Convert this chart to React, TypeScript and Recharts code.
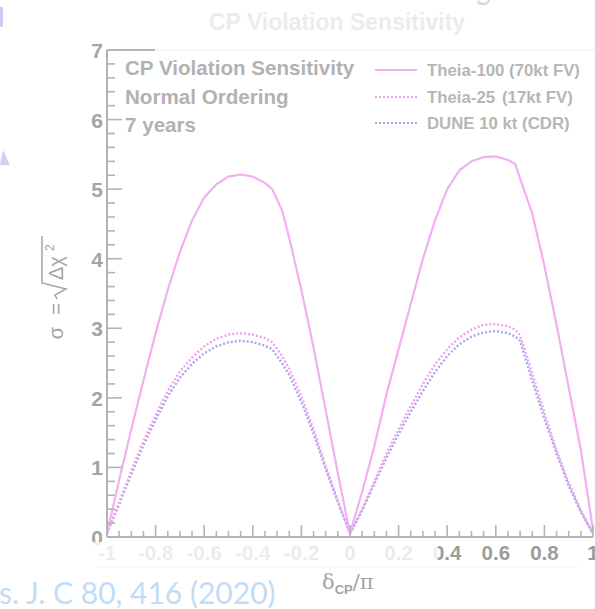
import React from 'react';
import { LineChart, Line, XAxis, YAxis } from 'recharts';

// δCP/π sample points
const deltaCP = [
  -1, -0.95, -0.9, -0.85, -0.8, -0.75, -0.7, -0.65, -0.6, -0.55, -0.5, -0.45, -0.4, -0.35, -0.32, -0.28, -0.25,
  -0.2, -0.15, -0.1, -0.05, 0, 0.05, 0.1, 0.15, 0.2, 0.25, 0.3, 0.35, 0.4, 0.45, 0.5, 0.55, 0.6, 0.65, 0.68,
  0.7, 0.75, 0.8, 0.85, 0.9, 0.95, 1,
];
// Theia-100 (70kt FV)
const theia100 = [
  0.05, 0.82, 1.55, 2.25, 2.93, 3.55, 4.1, 4.55, 4.88, 5.07, 5.18, 5.21, 5.18, 5.09, 5.0, 4.7, 4.3,
  3.55, 2.72, 1.82, 0.92, 0.05, 0.65, 1.3, 2.05, 2.7, 3.35, 4.0, 4.55, 5.0, 5.27, 5.4, 5.46, 5.47, 5.42, 5.36,
  5.15, 4.65, 3.9, 3.05, 2.15, 1.25, 0.1,
];
// Theia-25 (17kt FV)
const theia25 = [
  0.05, 0.5, 0.95, 1.38, 1.75, 2.1, 2.38, 2.58, 2.74, 2.85, 2.91, 2.93, 2.91, 2.86, 2.8, 2.6, 2.42,
  2.02, 1.55, 1.02, 0.52, 0.05, 0.4, 0.8, 1.2, 1.55, 1.88, 2.2, 2.48, 2.7, 2.87, 2.98, 3.05, 3.06, 3.03, 2.98,
  2.9, 2.35, 1.78, 1.25, 0.78, 0.38, 0.05,
];
// DUNE 10 kt (CDR)
const dune10 = [
  0.05, 0.47, 0.9, 1.32, 1.68, 2.02, 2.29, 2.49, 2.64, 2.74, 2.8, 2.82, 2.8, 2.75, 2.7, 2.5, 2.33,
  1.94, 1.49, 0.98, 0.5, 0.05, 0.38, 0.76, 1.14, 1.48, 1.8, 2.1, 2.37, 2.6, 2.77, 2.88, 2.94, 2.96, 2.93, 2.88,
  2.82, 2.25, 1.7, 1.2, 0.74, 0.36, 0.05,
];

const xTickValues = Array.from({ length: 41 }, (_, i) => (i - 20) / 20);
const yTickValues = Array.from({ length: 36 }, (_, i) => i / 5);
const seriesNames = ['Theia-100 (70kt FV)', 'Theia-25', '(17kt FV)', 'DUNE 10 kt (CDR)'];
const infoLines = ['CP Violation Sensitivity', 'Normal Ordering', '7 years'];
const titleText = 'CP Violation Sensitivity';
const citation = 's. J. C 80, 416 (2020)';

const data = deltaCP.map((x, i) => ({ x, t100: theia100[i], t25: theia25[i], dune: dune10[i] }));

const C100 = '#f2b0f2';
const C25 = '#eea2ee';
const CDUNE = '#a9a6ee';
const AXIS = '#b4b4b4';
const LABEL = '#a4a4a4';
const SANS = '"Liberation Sans", Arial, Helvetica, sans-serif';

const isMajorX = (v: number) => ((Math.round(v * 20) % 4) + 4) % 4 === 0;
const isMajorY = (v: number) => Math.round(v * 5) % 5 === 0;

const XTick = (props: any) => {
  const { x, y, payload } = props;
  const v = payload.value as number;
  const major = isMajorX(v);
  const len = major ? 12 : 6;
  return (
    <g>
      <line x1={x} x2={x} y1={y} y2={y - len} stroke={AXIS} strokeWidth={1.6} />
      {major && (
        <text x={x} y={y + 23} textAnchor="middle" fill="#9c9c9c" fontFamily={SANS} fontWeight="bold" fontSize={20.5}>
          {String(Math.round(v * 10) / 10)}
        </text>
      )}
    </g>
  );
};

const YTick = (props: any) => {
  const { x, y, payload } = props;
  const v = payload.value as number;
  const major = isMajorY(v);
  const len = major ? 15 : 8;
  return (
    <g>
      <line x1={x} x2={x + len} y1={y} y2={y} stroke={AXIS} strokeWidth={1.6} />
      {major && (
        <text x={x - 4} y={y + 8} textAnchor="end" fill={LABEL} fontFamily={SANS} fontWeight="bold" fontSize={21}>
          {String(Math.round(v))}
        </text>
      )}
    </g>
  );
};

export default function App() {
  return (
    <div style={{ position: 'absolute', left: 0, top: 0, width: 595, height: 609, overflow: 'hidden', background: '#fff' }}>
      <LineChart width={595} height={609} data={data} margin={{ top: 50, right: 2, bottom: 0, left: 0 }}>
        <XAxis
          dataKey="x"
          type="number"
          domain={[-1, 1]}
          ticks={xTickValues}
          interval={0}
          height={72}
          tickSize={0}
          tickMargin={0}
          tickLine={false}
          tick={XTick}
          axisLine={{ stroke: AXIS, strokeWidth: 2 }}
        />
        <YAxis
          type="number"
          domain={[0, 7]}
          ticks={yTickValues}
          interval={0}
          width={107}
          tickSize={0}
          tickMargin={0}
          tickLine={false}
          tick={YTick}
          axisLine={{ stroke: AXIS, strokeWidth: 2 }}
        />
        <Line dataKey="dune" type="linear" stroke={CDUNE} strokeWidth={2.4} strokeDasharray="2 2" dot={false} isAnimationActive={false} />
        <Line dataKey="t25" type="linear" stroke={C25} strokeWidth={2.4} strokeDasharray="2 2" dot={false} isAnimationActive={false} />
        <Line dataKey="t100" type="linear" stroke={C100} strokeWidth={2.2} dot={false} isAnimationActive={false} />
      </LineChart>

      {/* faded overlay on the left x labels */}
      <div style={{ position: 'absolute', left: 84, top: 542, width: 354, height: 25, background: 'rgba(255,255,255,0.8)' }} />

      <svg width={595} height={609} style={{ position: 'absolute', left: 0, top: 0, pointerEvents: 'none' }}>
        {/* slide decorations */}
        <rect x={0} y={7} width={3} height={20} fill="#d9c9f2" />
        <polygon points="0,165 10,165 3,150" fill="#dccbee" />
        <path d="M 489 0 Q 488 4 483 4 Q 479 4 478 1" fill="none" stroke="#d8d8d8" strokeWidth={2.5} />
        <text x={337} y={30} textAnchor="middle" fontFamily={SANS} fontWeight="bold" fontSize={23} fill="#ececec">{titleText}</text>

        {/* frame top */}
        <line x1={107} x2={155} y1={50} y2={50} stroke={AXIS} strokeWidth={2} />
        <line x1={155} x2={595} y1={50} y2={50} stroke="#ececec" strokeWidth={1} />

        {/* info text */}
        {infoLines.map((t, i) => (
          <text key={t} x={125} y={75 + i * 28.5} fontFamily={SANS} fontWeight="bold" fontSize={20.6} fill="#b2b2b2">{t}</text>
        ))}

        {/* legend */}
        <line x1={375} x2={417} y1={70} y2={70} stroke={C100} strokeWidth={2.2} />
        <line x1={375} x2={417} y1={97} y2={97} stroke={C25} strokeWidth={2.2} strokeDasharray="2 2" />
        <line x1={375} x2={417} y1={123} y2={123} stroke={CDUNE} strokeWidth={2.2} strokeDasharray="2 2" />
        <text x={427} y={76} fontFamily={SANS} fontWeight="bold" fontSize={16.8} fill="#b6b6b6">{seriesNames[0]}</text>
        <text x={427} y={103} fontFamily={SANS} fontWeight="bold" fontSize={16.8} fill="#b6b6b6">{seriesNames[1]}</text>
        <text x={502} y={103} fontFamily={SANS} fontWeight="bold" fontSize={16.8} fill="#b6b6b6">{seriesNames[2]}</text>
        <text x={427} y={129} fontFamily={SANS} fontWeight="bold" fontSize={16.8} fill="#b6b6b6">{seriesNames[3]}</text>

        {/* y-axis title */}
        <g transform="translate(58,290) rotate(-90)" fill={LABEL} fontFamily={SANS} fontSize={20}>
          <text x={-43} y={5} textAnchor="middle">σ</text>
          <text x={-19} y={5} textAnchor="middle">=</text>
          <path d="M -9 -1 L -5 -3 L 1 8 L 7 -16 L 54 -16" fill="none" stroke={LABEL} strokeWidth={1.5} />
          <text x={10} y={5}>Δχ</text>
          <text x={39} y={-4} fontSize={12}>2</text>
        </g>

        {/* x-axis title */}
        <text x={322} y={589} fill={LABEL} fontFamily='"DejaVu Serif", serif' fontSize={21}>
          δ
          <tspan fontFamily={SANS} fontWeight="bold" fontSize={13} dy={5}>CP</tspan>
          <tspan dy={-5}>/π</tspan>
        </text>

        {/* faint rule under labels */}
        <line x1={95} x2={578} y1={567} y2={567} stroke="#f4f4f4" strokeWidth={1} />

        {/* citation */}
        <text x={-1} y={604} fontFamily="Lato, sans-serif" fontSize={30} fill="#c2dcf6">{citation}</text>
      </svg>
    </div>
  );
}
